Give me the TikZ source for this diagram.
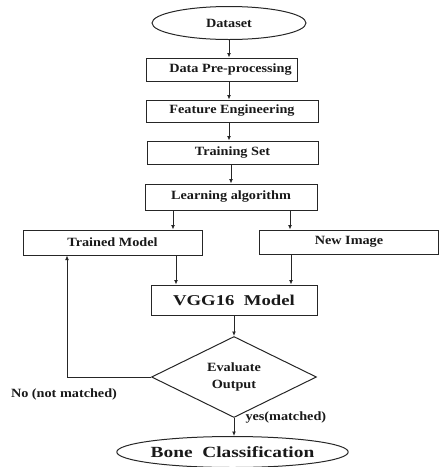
\documentclass[tikz,border=0pt]{standalone}
\usepackage{fontspec}
\setmainfont{Liberation Serif}[FakeStretch=1.13]
\newfontfamily\bigfont{Liberation Serif}[FakeStretch=1.25]
\usetikzlibrary{shapes.geometric,arrows.meta,calc}
\begin{document}
\begin{tikzpicture}[x=1pt,y=-1pt,
  line width=1pt, draw=black!85,
  txt/.style={font=\fontsize{12.6}{14}\selectfont\bfseries, text=black!90},
  boxnode/.style={draw, rectangle, inner sep=0pt, txt},
  ellnode/.style={draw, ellipse, inner sep=0pt, txt},
  decnode/.style={draw, diamond, inner sep=0pt, aspect=2, txt, align=center},
  arr/.style={-{Latex[length=4.5pt,width=4pt]}},
  lbl/.style={txt, inner sep=0pt}]
\useasboundingbox (0,0) rectangle (439,467);

\node[ellnode, minimum width=154, minimum height=33] (ds) at (229,23) {Dataset};
\node[boxnode, minimum width=151, minimum height=23] (dp) at (221.5,69.5) {\hspace*{18pt}Data Pre-processing};
\node[boxnode, minimum width=172, minimum height=22] (fe) at (232,111) {Feature Engineering};
\node[boxnode, minimum width=171, minimum height=23] (ts) at (232.5,152.5) {Training Set};
\node[boxnode, minimum width=172, minimum height=26] (la) at (231,197) {Learning algorithm};
\node[boxnode, minimum width=179, minimum height=25] (tm) at (112.5,242.5) {Trained Model};
\node[boxnode, minimum width=179, minimum height=24] (ni) at (349,242) {New Image};
\node[boxnode, minimum width=166, minimum height=30, font=\bigfont\fontsize{15}{17}\selectfont\bfseries] (vgg) at (234,300) {VGG16\ \ Model};
\node[decnode, minimum width=165, minimum height=81] (ev) at (234,377) {Evaluate\\[3pt]Output};
\node[ellnode, minimum width=179, minimum height=31, font=\bigfont\fontsize{15.5}{17}\selectfont\bfseries] (bc) at (232.5,452) {Bone\ \ Classification};

\node[lbl] (no) at (64,394) {No (not matched)};
\node[lbl, anchor=west] (yes) at (245,417) {yes(matched)};

\coordinate (c1) at (229,0);
\coordinate (ltm) at (173,0);
\coordinate (lni) at (290,0);
\coordinate (tv) at (176,0);
\coordinate (nv) at (291,0);
\coordinate (fb) at (67,0);

\draw[arr] (ds.south -| c1) -- (dp.north -| c1);
\draw[arr] (dp.south -| c1) -- (fe.north -| c1);
\draw[arr] (fe.south -| c1) -- (ts.north -| c1);
\draw[arr] (ts.south -| la.north) -- (la.north);
\draw[arr] (la.south -| ltm) -- (tm.north -| ltm);
\draw[arr] (la.south -| lni) -- (ni.north -| lni);
\draw[arr] (tm.south -| tv) -- (vgg.north -| tv);
\draw[arr] (ni.south -| nv) -- (vgg.north -| nv);
\draw[arr] (vgg.south -| ev.north) -- (ev.north);
\draw[arr] (ev.south) -- (ev.south |- bc.north);
\draw[arr] (ev.west) -- (ev.west -| fb) -- (tm.south -| fb);
\end{tikzpicture}
\end{document}
